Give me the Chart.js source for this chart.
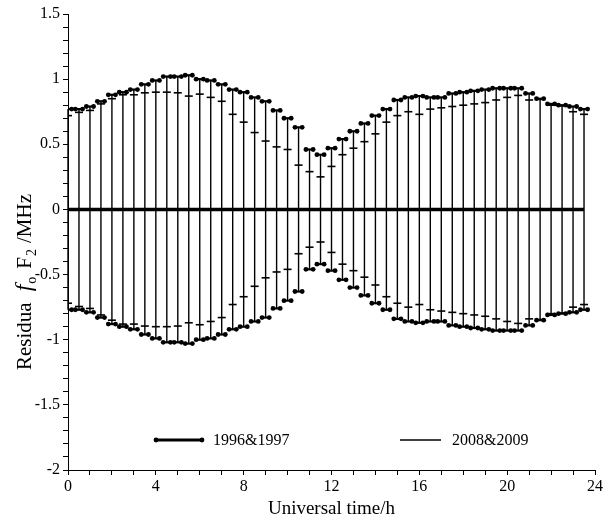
<!DOCTYPE html>
<html>
<head>
<meta charset="utf-8">
<script src="https://cdn.jsdelivr.net/npm/chart.js@4"></script>
<style>
  html, body { margin: 0; padding: 0; background: #fff; }
  #wrap { width: 605px; height: 521px; }
</style>
</head>
<body>
<div id="wrap"><canvas id="chart" width="605" height="521"></canvas></div>
<script>
const hours = [0, 0.5, 1, 1.5, 2, 2.5, 3, 3.5, 4, 4.5, 5, 5.5, 6, 6.5, 7, 7.5,
    8, 8.5, 9, 9.5, 10, 10.5, 11, 11.5, 12, 12.5, 13, 13.5, 14, 14.5, 15, 15.5,
    16, 16.5, 17, 17.5, 18, 18.5, 19, 19.5, 20, 20.5, 21, 21.5, 22, 22.5, 23, 23.5];

// half-width of the residual band (bars go from -v to +v)
const res9697 = [0.77, 0.77, 0.79, 0.83, 0.88, 0.90, 0.92, 0.96, 0.99, 1.02, 1.02, 1.03, 1.00, 0.99, 0.96, 0.92,
    0.90, 0.86, 0.83, 0.76, 0.70, 0.63, 0.46, 0.42, 0.47, 0.54, 0.60, 0.66, 0.72, 0.77, 0.84, 0.86,
    0.87, 0.86, 0.86, 0.89, 0.90, 0.91, 0.92, 0.93, 0.93, 0.93, 0.89, 0.85, 0.81, 0.80, 0.79, 0.77];
const res0809 = [0.72, 0.745, 0.76, 0.81, 0.85, 0.88, 0.88, 0.895, 0.90, 0.90, 0.895, 0.87, 0.885, 0.86, 0.83, 0.73,
    0.67, 0.59, 0.525, 0.48, 0.46, 0.34, 0.29, 0.25, 0.33, 0.42, 0.47, 0.52, 0.58, 0.67, 0.72, 0.75,
    0.73, 0.77, 0.78, 0.79, 0.80, 0.81, 0.82, 0.84, 0.86, 0.875, 0.84, 0.845, 0.80, 0.795, 0.75, 0.73];

const xLabelStep = 4;
const yLabelStep = 0.5;
const seriesNames = ["1996&1997", "2008&2009"];
const xTitle = "Universal time/h";

const serif = "'Liberation Serif', 'Times New Roman', serif";
Chart.defaults.color = "#000";

const errorBars = {
    id: "errorBars",
    beforeDatasetsDraw(chart) {
        const { ctx, scales: { x, y } } = chart;
        ctx.save();
        ctx.strokeStyle = "#000";
        ctx.lineWidth = 1.4;
        hours.forEach((h, i) => {
            const px = x.getPixelForValue(h);
            ctx.beginPath();
            ctx.moveTo(px, y.getPixelForValue(res9697[i]));
            ctx.lineTo(px, y.getPixelForValue(-res9697[i]));
            ctx.stroke();
        });
        ctx.restore();
    },
    afterDatasetsDraw(chart) {
        const { ctx, chartArea, scales: { x, y } } = chart;
        ctx.save();
        ctx.beginPath();
        ctx.rect(chartArea.left + 1, 0, chart.width, chart.height);
        ctx.clip();
        ctx.strokeStyle = "#000";
        ctx.fillStyle = "#000";
        hours.forEach((h, i) => {
            const px = x.getPixelForValue(h);
            [1, -1].forEach(s => {
                // 2008&2009 tick
                const qy = y.getPixelForValue(s * res0809[i]);
                ctx.lineWidth = 1.6;
                ctx.beginPath();
                ctx.moveTo(px - 4, qy);
                ctx.lineTo(px + 4, qy);
                ctx.stroke();
                // 1996&1997 cap with dots
                const py = y.getPixelForValue(s * res9697[i]);
                ctx.lineWidth = 2.2;
                ctx.beginPath();
                ctx.moveTo(px - 3.6, py);
                ctx.lineTo(px + 3.6, py);
                ctx.stroke();
                [-3.6, 3.6].forEach(d => {
                    ctx.beginPath();
                    ctx.arc(px + d, py, 2.4, 0, Math.PI * 2);
                    ctx.fill();
                });
            });
        });
        ctx.restore();
    }
};

const legendBox = {
    id: "legendBox",
    afterDraw(chart) {
        const { ctx } = chart;
        const ly = 440;
        ctx.save();
        ctx.strokeStyle = "#000";
        ctx.fillStyle = "#000";
        ctx.lineWidth = 3;
        ctx.beginPath();
        ctx.moveTo(156, ly);
        ctx.lineTo(202, ly);
        ctx.stroke();
        [156, 202].forEach(px => {
            ctx.beginPath();
            ctx.arc(px, ly, 2.4, 0, Math.PI * 2);
            ctx.fill();
        });
        ctx.lineWidth = 1.3;
        ctx.beginPath();
        ctx.moveTo(400, ly);
        ctx.lineTo(441, ly);
        ctx.stroke();
        ctx.font = "16px " + serif;
        ctx.textBaseline = "middle";
        ctx.fillText(seriesNames[0], 213, ly + 1);
        ctx.fillText(seriesNames[1], 452, ly + 1);
        ctx.restore();
    }
};

// y title with italic f and subscripts
const yTitle = {
    id: "yTitle",
    afterDraw(chart) {
        const { ctx } = chart;
        const parts = [
            { t: "Residua", f: "21px " + serif, dy: 0, gap: 11 },
            { t: "f", f: "italic 24px " + serif, dy: 0, gap: 1 },
            { t: "o", f: "14px " + serif, dy: 5, gap: 8 },
            { t: "F", f: "21px " + serif, dy: 0, gap: 1 },
            { t: "2", f: "14px " + serif, dy: 5, gap: 6 },
            { t: "/MHz", f: "21px " + serif, dy: 0, gap: 0 }
        ];
        ctx.save();
        ctx.translate(31, 370);
        ctx.rotate(-Math.PI / 2);
        ctx.fillStyle = "#000";
        ctx.textBaseline = "alphabetic";
        let cx = 0;
        parts.forEach(p => {
            ctx.font = p.f;
            ctx.fillText(p.t, cx, p.dy);
            cx += ctx.measureText(p.t).width + p.gap;
        });
        ctx.restore();
    }
};

new Chart(document.getElementById("chart"), {
    type: "line",
    data: {
        datasets: [{
            label: seriesNames[0],
            data: [{ x: hours[0], y: 0 }, { x: hours[hours.length - 1], y: 0 }],
            borderColor: "#000",
            borderWidth: 3.5,
            pointRadius: 0
        }]
    },
    options: {
        responsive: false,
        animation: false,
        devicePixelRatio: 1,
        layout: { padding: { top: 14, right: 9, left: 0, bottom: 0 } },
        plugins: {
            legend: { display: false },
            tooltip: { enabled: false }
        },
        scales: {
            x: {
                type: "linear",
                min: 0,
                max: 24,
                afterFit: s => { s.height = 51; },
                ticks: {
                    stepSize: 1,
                    maxTicksLimit: 100,
                    autoSkip: false,
                    maxRotation: 0,
                    padding: 2,
                    color: "#000",
                    font: { family: serif, size: 16 },
                    callback: v => (v % xLabelStep === 0 ? String(v) : "")
                },
                grid: { drawOnChartArea: false, color: "#000", tickLength: 5 },
                border: { color: "#000", width: 1 },
                title: {
                    display: true,
                    text: xTitle,
                    color: "#000",
                    font: { family: serif, size: 19 },
                    padding: { top: 0, bottom: 1 }
                }
            },
            y: {
                min: -2,
                max: 1.5,
                afterFit: s => { s.width = 68; },
                ticks: {
                    stepSize: 0.1,
                    maxTicksLimit: 100,
                    autoSkip: false,
                    padding: 3,
                    color: "#000",
                    font: { family: serif, size: 16 },
                    callback: v => {
                        const k = v / yLabelStep;
                        return Math.abs(k - Math.round(k)) < 1e-6 ? String(Math.round(v * 10) / 10) : "";
                    }
                },
                grid: { drawOnChartArea: false, color: "#000", tickLength: 5 },
                border: { color: "#000", width: 1 }
            }
        }
    },
    plugins: [errorBars, legendBox, yTitle]
});
</script>
</body>
</html>
